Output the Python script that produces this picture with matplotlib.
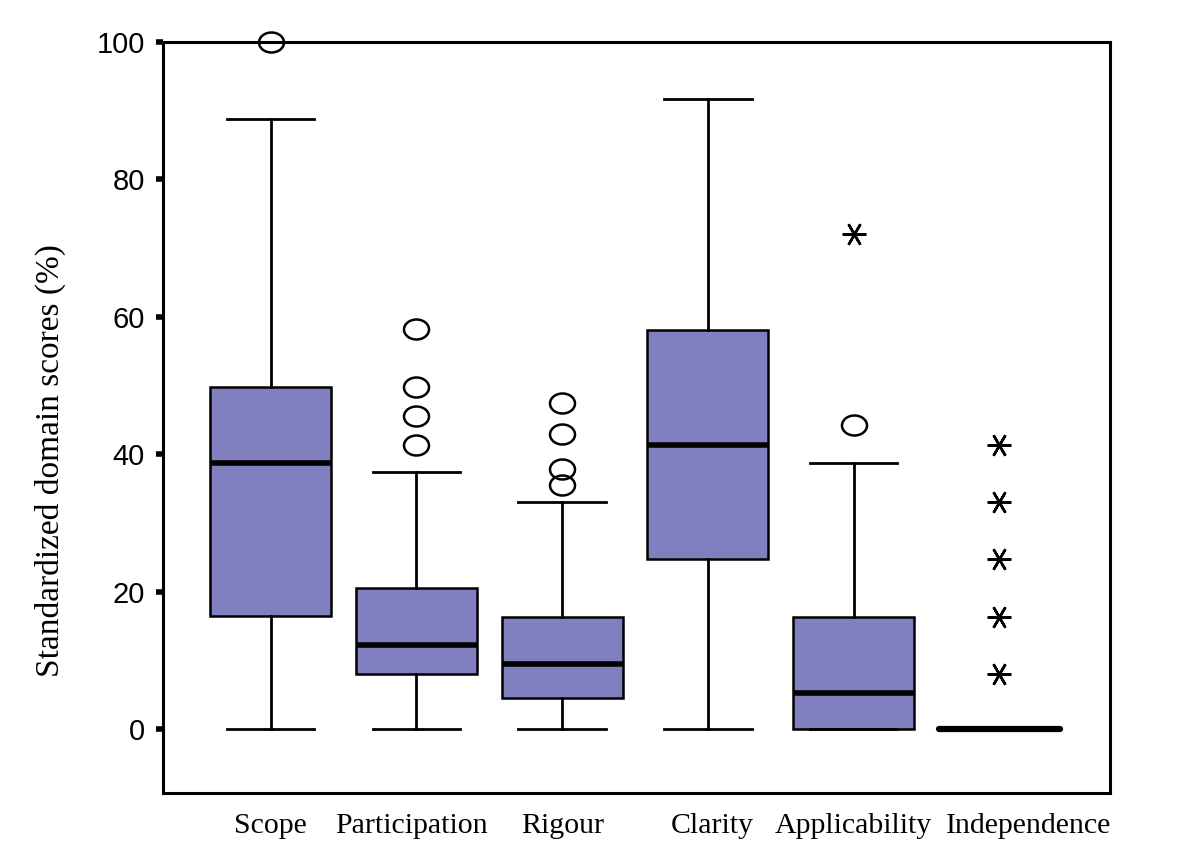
import matplotlib
matplotlib.use("Agg")
import matplotlib.pyplot as plt
from matplotlib.path import Path
from matplotlib.transforms import Affine2D, ScaledTranslation

categories = ["Scope", "Participation", "Rigour", "Clarity", "Applicability", "Independence"]
whisker_low = [0, 0, 0, 0, 0, 0]
q1 = [16.5, 8.1, 4.5, 24.8, 0, 0]
median = [38.7, 12.3, 9.5, 41.4, 5.3, 0]
q3 = [49.8, 20.5, 16.4, 58.1, 16.4, 0]
whisker_high = [88.8, 37.4, 33.1, 91.6, 38.7, 0]
outliers = [[100], [58.2, 49.8, 45.6, 41.4], [47.4, 42.9, 37.9, 35.5], [], [44.2], []]
extremes = [[], [], [], [], [72.1], [41.4, 33.1, 24.8, 16.4, 8.1]]
yticks = [0, 20, 40, 60, 80, 100]

fig = plt.figure(figsize=(12, 8.68), dpi=100)
ax = fig.add_axes([0.1358, 0.0863, 0.925 - 0.1358, 0.9520 - 0.0863])

stats = []
for i, c in enumerate(categories):
    stats.append(dict(label=c, whislo=whisker_low[i], q1=q1[i], med=median[i],
                      q3=q3[i], whishi=whisker_high[i], fliers=[]))

positions = list(range(1, len(categories) + 1))
res = ax.bxp(stats, positions=positions, widths=0.83, patch_artist=True, showfliers=False,
             boxprops=dict(facecolor="#8080C0", edgecolor="black", linewidth=1.8),
             medianprops=dict(color="black", linewidth=4, solid_capstyle="butt"),
             whiskerprops=dict(color="black", linewidth=2),
             capprops=dict(color="black", linewidth=2),
             capwidths=0.6)
# collapsed box (Q1 = Q3): thick line with rounded ends
for i, m in enumerate(res["medians"]):
    if q1[i] == q3[i]:
        m.set_solid_capstyle("round")
        m.set_linewidth(4.5)

ellipse = Path.unit_circle().transformed(Affine2D().scale(1.0, 0.8))

for i, pos in enumerate(positions):
    if outliers[i]:
        ax.plot([pos] * len(outliers[i]), outliers[i], linestyle="none", marker=ellipse,
                markersize=18, markerfacecolor="none", markeredgecolor="black",
                markeredgewidth=1.8, clip_on=False, zorder=5)
    if extremes[i]:
        ax.plot([pos] * len(extremes[i]), extremes[i], linestyle="none", marker=(6, 2, 90),
                markersize=17, markeredgecolor="black", markeredgewidth=1.8,
                clip_on=False, zorder=5)

ax.set_xlim(0.26, 6.76)
ax.set_ylim(-9.26, 100)
ax.set_yticks(yticks)
ax.set_yticklabels([str(t) for t in yticks], fontfamily="Liberation Sans", fontsize=21)
ax.set_xticks(positions)
ax.set_xticklabels(categories, fontfamily="Liberation Serif", fontsize=21.5)
ax.tick_params(axis="x", length=0, pad=14)
ax.tick_params(axis="y", direction="out", length=5, width=4, pad=8)
label_shift = [0, -5, 0, 4, 0, 29]
for lab, dx in zip(ax.get_xticklabels(), label_shift):
    lab.set_transform(lab.get_transform() + ScaledTranslation(dx / 100, 0, fig.dpi_scale_trans))
ax.set_ylabel("Standardized domain scores (%)", fontfamily="Liberation Serif", fontsize=24)
ax.yaxis.set_label_coords(-0.102, 0.443)
for s in ax.spines.values():
    s.set_linewidth(2.2)

fig.savefig("out.png", dpi=100)
